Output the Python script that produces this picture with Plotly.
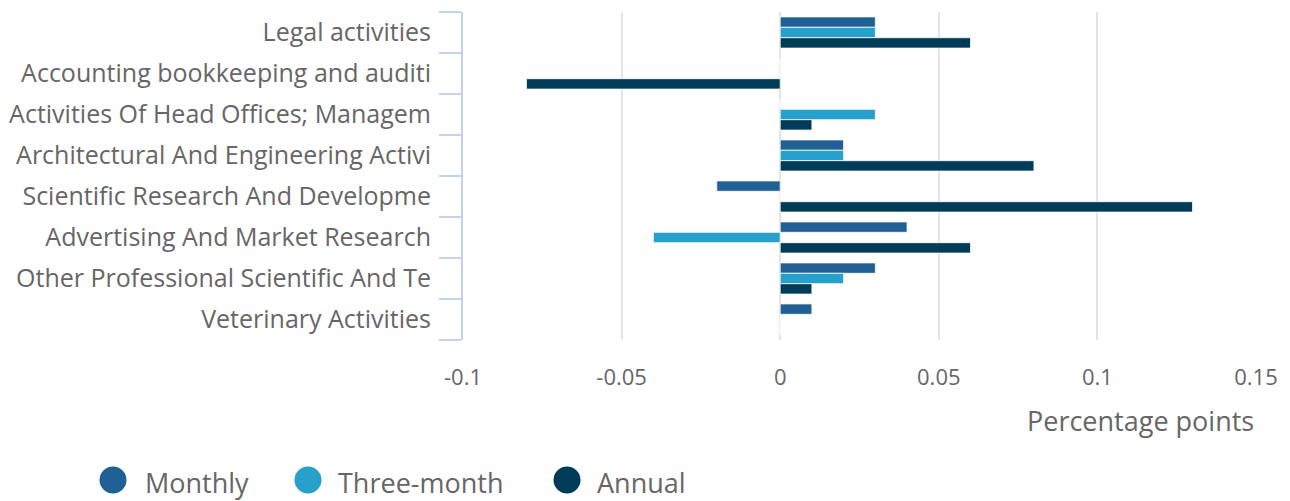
import plotly.graph_objects as go

categories = [
    "Legal activities",
    "Accounting bookkeeping and auditing activities",
    "Activities Of Head Offices; Management Consultancy Activities",
    "Architectural And Engineering Activities; Technical Testing And Analysis",
    "Scientific Research And Development",
    "Advertising And Market Research",
    "Other Professional Scientific And Technical Activities",
    "Veterinary Activities",
]
tick_labels = [
    "Legal activities",
    "Accounting bookkeeping and auditi",
    "Activities Of Head Offices; Managem",
    "Architectural And Engineering Activi",
    "Scientific Research And Developme",
    "Advertising And Market Research",
    "Other Professional Scientific And Te",
    "Veterinary Activities",
]
monthly = [0.03, 0.0, 0.0, 0.02, -0.02, 0.04, 0.03, 0.01]
three_month = [0.03, 0.0, 0.03, 0.02, 0.0, -0.04, 0.02, 0.0]
annual = [0.06, -0.08, 0.01, 0.08, 0.13, 0.06, 0.01, 0.0]

series_names = ["Monthly", "Three-month", "Annual"]
series_values = [monthly, three_month, annual]
series_colors = ["#206095", "#27A0CC", "#003C57"]

FONT = "Open Sans"
TXT = "#666666"
W, H = 1282, 493
# plot area in page pixels (page has an 8px body offset)
PL, PR, PT, PB = 463, 1256, 12, 340


def px_x(px):
    return (px - PL) / (PR - PL)


def px_y(py):
    return (PB - py) / (PB - PT)


fig = go.Figure()
for name, vals, col in zip(series_names, series_values, series_colors):
    fig.add_trace(go.Bar(
        y=categories, x=vals, name=name, orientation="h",
        marker=dict(color=col, line=dict(color="rgba(255,255,255,0.8)", width=1)),
        showlegend=False,
    ))

fig.update_layout(
    width=W, height=H,
    margin=dict(l=PL - 8, r=W + 8 - PR, t=PT - 8, b=H + 8 - PB),
    paper_bgcolor="white", plot_bgcolor="white",
    barmode="group", bargap=0.24, bargroupgap=0,
    font=dict(family=FONT, size=25, color=TXT),
    showlegend=False,
    xaxis=dict(
        range=[-0.1, 0.15], tickvals=[-0.1, -0.05, 0, 0.05, 0.1, 0.15],
        ticktext=["-0.1", "-0.05", "0", "0.05", "0.1", "0.15"],
        showgrid=True, gridcolor="#e4e4e4", gridwidth=2,
        zeroline=False, showline=False, ticks="",
        ticklabelstandoff=22, automargin=False,
        tickfont=dict(size=22, color=TXT),
    ),
    yaxis=dict(
        categoryorder="array", categoryarray=categories,
        tickvals=categories, ticktext=tick_labels,
        autorange="reversed", automargin=False,
        showline=True, linecolor="#c4d2ea", linewidth=2,
        ticks="outside", ticklen=22, tickwidth=2, tickcolor="#c4d2ea",
        tickson="boundaries", showgrid=False, zeroline=False,
        ticklabelstandoff=25,
        tickfont=dict(size=25, color=TXT),
    ),
)

# legend (manual, to get large round swatches)
legend_circle_x = [113, 308, 567]
legend_text_x = [145, 338, 597]
LEG_Y = 480
for name, col, cx, tx in zip(series_names, series_colors, legend_circle_x, legend_text_x):
    fig.add_shape(
        type="circle", xref="paper", yref="paper",
        xsizemode="pixel", ysizemode="pixel",
        xanchor=px_x(cx), yanchor=px_y(LEG_Y),
        x0=-13.5, x1=13.5, y0=-13.5, y1=13.5,
        fillcolor=col, line=dict(width=0),
    )
    fig.add_annotation(
        text=name, xref="paper", yref="paper",
        x=px_x(tx), y=px_y(LEG_Y + 2), xanchor="left", yanchor="middle",
        showarrow=False, font=dict(size=27, color=TXT),
        xshift=-2,
    )

fig.add_annotation(
    text="Percentage points", xref="paper", yref="paper",
    x=1, y=px_y(420), xanchor="right", yanchor="middle",
    showarrow=False, font=dict(size=27, color=TXT),
)

fig.write_html("out.html")
